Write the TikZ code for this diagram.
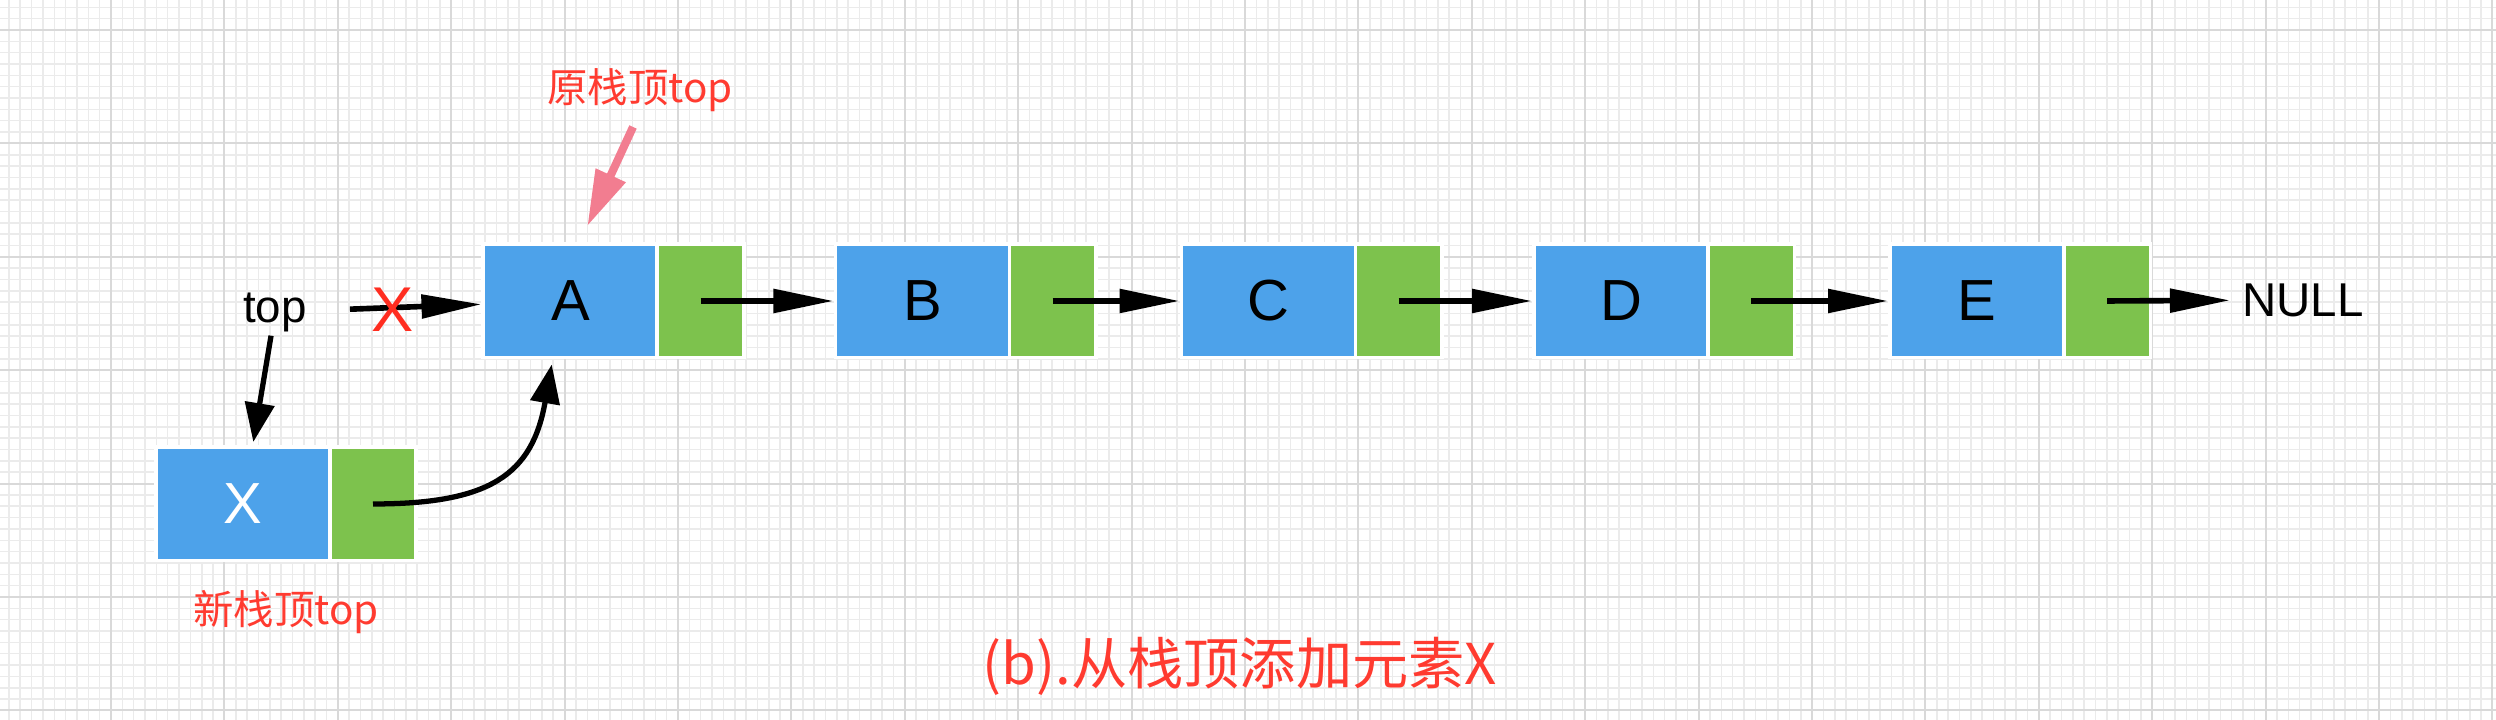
\documentclass[tikz,border=0pt]{standalone}
\usepackage{fontspec}
\setmainfont{Liberation Sans}
\newfontfamily\cjk{Noto Sans CJK SC}
\usetikzlibrary{arrows.meta}

\definecolor{cellblue}{HTML}{4DA2EA}
\definecolor{cellgreen}{HTML}{7DC24D}
\definecolor{notered}{HTML}{FF3B30}
\definecolor{cutred}{HTML}{FF2D20}
\definecolor{pointpink}{HTML}{F27D90}

\tikzset{
	datacell/.style={rectangle, fill=cellblue, draw=white, line width=1pt, minimum width=1.745cm, minimum height=1.135cm, inner sep=0pt, font=\fontsize{16.5}{18}\selectfont},
	linkcell/.style={rectangle, fill=cellgreen, draw=white, line width=1pt, minimum width=0.865cm, minimum height=1.135cm, inner sep=0pt},
	nextarr/.style={line width=1.6pt, -{Triangle[length=0.6cm, width=0.23cm]}},
	ptrarr/.style={line width=1.5pt, -{Triangle[length=0.39cm, width=0.29cm]}},
	pinkarr/.style={draw=pointpink, line width=2.3pt, -{Triangle[length=0.56cm, width=0.31cm]}},
	note/.style={text=notered, font=\cjk\fontsize{11.5}{13}\selectfont}
}

\begin{document}
\begin{tikzpicture}
			%%%%% GRID %%%%%
			\fill[white] (0, 0) rectangle (24.96, 7.2);
			\useasboundingbox (0, 0) rectangle (24.96, 7.2);
			\begin{scope}[shift={(1.11, 6.90)}]
				\draw[black!8, line width=0.45pt, step=0.1134] (-1.11, -6.90) grid (23.85, 0.30);
				\draw[black!15, line width=0.6pt, step=1.134] (-1.11, -6.90) grid (23.85, 0.30);
			\end{scope}
			
			%%%%% LIST %%%%%
			\node[inner sep=1pt, font=\fontsize{13}{15}\selectfont] (top) at (2.75, 4.08) {top};
			
			\node[datacell] (A) at (5.705, 4.19) {A};
			\node[linkcell] (Ag) at (7.005, 4.19) {};
			\node[datacell] (B) at (9.225, 4.19) {B};
			\node[linkcell] (Bg) at (10.525, 4.19) {};
			\node[datacell] (C) at (12.685, 4.19) {C};
			\node[linkcell] (Cg) at (13.985, 4.19) {};
			\node[datacell] (D) at (16.21, 4.19) {D};
			\node[linkcell] (Dg) at (17.51, 4.19) {};
			\node[datacell] (E) at (19.77, 4.19) {E};
			\node[linkcell] (Eg) at (21.07, 4.19) {};
			\node[font=\fontsize{13.5}{15}\selectfont] (null) at (23.03, 4.20) {NULL};
			
			\node[datacell, text=white] (X) at (2.43, 2.16) {X};
			\node[linkcell] (Xg) at (3.73, 2.16) {};
			
			\draw[nextarr] (Ag.center) -- (B);
			\draw[nextarr] (Bg.center) -- (C);
			\draw[nextarr] (Cg.center) -- (D);
			\draw[nextarr] (Dg.center) -- (E);
			\draw[nextarr] (Eg.center) -- (null);
			
			%%%%% PUSH X %%%%%
			\draw[nextarr, shorten <=0.39cm] (top) -- (A);
			\node[text=cutred, font=\fontsize{18}{20}\selectfont] (cut) at (3.93, 4.10) {X};
			\draw[ptrarr, shorten >=1pt] (top) -- (X);
			\draw[ptrarr, shorten >=0.05cm] (Xg.center) to[out=0, in=-100, looseness=1.3] (A.-107);
			
			%%%%% LABELS %%%%%
			\node[note] (oldtop) at (6.40, 6.30) {原栈顶top};
			\coordinate (ptail) at (6.33, 5.93);
			\draw[pinkarr, shorten >=0.18cm] (ptail) -- (A.81);
			\node[note] (newtop) at (2.86, 1.08) {新栈顶top};
			\node[note, font=\cjk\fontsize{16}{18}\selectfont] (caption) at (12.40, 0.54) {(b).从栈顶添加元素X};
\end{tikzpicture}
\end{document}
